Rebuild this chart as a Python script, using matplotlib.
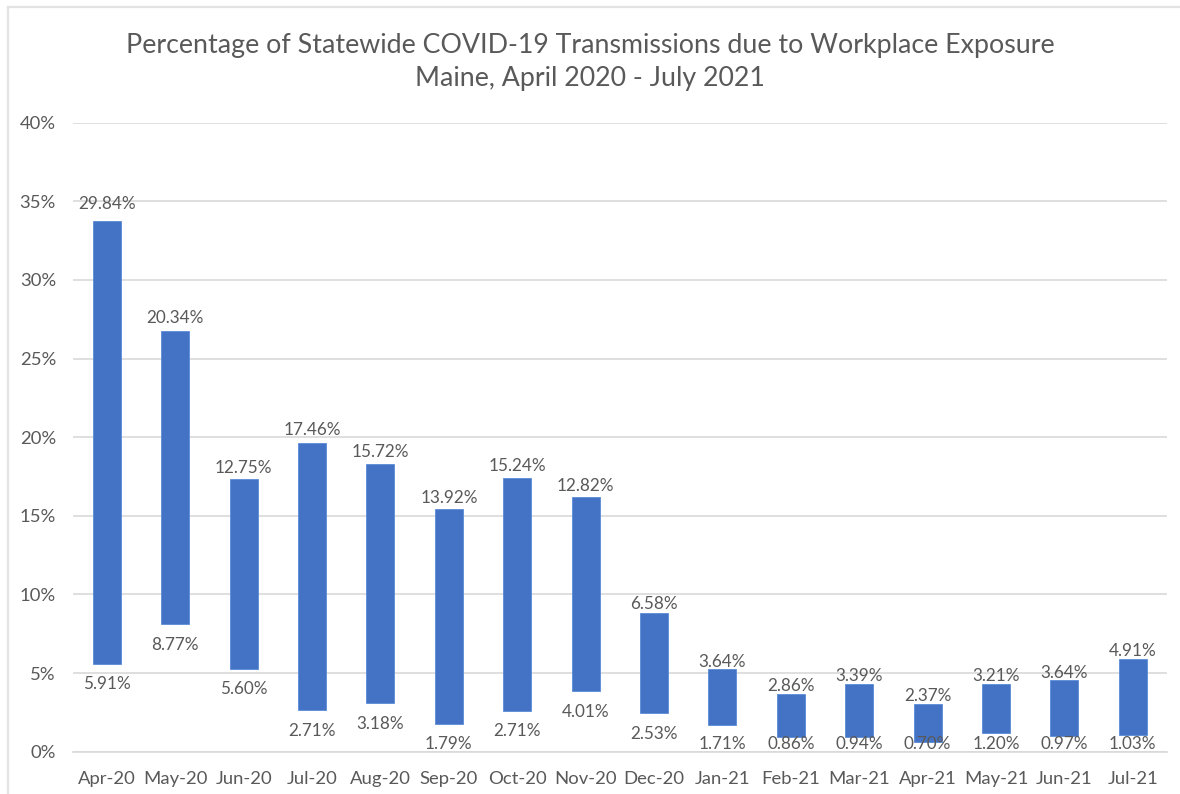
import matplotlib
matplotlib.use("Agg")
import matplotlib.pyplot as plt
from matplotlib.lines import Line2D
import numpy as np

months = ["Apr-20", "May-20", "Jun-20", "Jul-20", "Aug-20", "Sep-20", "Oct-20", "Nov-20",
          "Dec-20", "Jan-21", "Feb-21", "Mar-21", "Apr-21", "May-21", "Jun-21", "Jul-21"]
# bar extents (percent)
bar_low = [5.58, 8.10, 5.28, 2.63, 3.08, 1.76, 2.61, 3.86,
           2.44, 1.68, 0.91, 0.91, 0.64, 1.21, 0.98, 1.06]
bar_high = [33.77, 26.75, 17.36, 19.63, 18.30, 15.41, 17.42, 16.18,
            8.84, 5.24, 3.70, 4.31, 3.05, 4.31, 4.54, 5.88]
# data label texts
label_high = ["29.84%", "20.34%", "12.75%", "17.46%", "15.72%", "13.92%", "15.24%", "12.82%",
              "6.58%", "3.64%", "2.86%", "3.39%", "2.37%", "3.21%", "3.64%", "4.91%"]
label_low = ["5.91%", "8.77%", "5.60%", "2.71%", "3.18%", "1.79%", "2.71%", "4.01%",
             "2.53%", "1.71%", "0.86%", "0.94%", "0.70%", "1.20%", "0.97%", "1.03%"]
yticks = [0, 5, 10, 15, 20, 25, 30, 35, 40]
ytick_labels = ["0%", "5%", "10%", "15%", "20%", "25%", "30%", "35%", "40%"]
title = "Percentage of Statewide COVID-19 Transmissions due to Workplace Exposure\nMaine, April 2020 - July 2021"

plt.rcParams['font.family'] = ['Lato', 'DejaVu Sans']
TXT = "#595959"
BAR = "#4472C4"
GRID = "#D9D9D9"
YMAX = 40

fig = plt.figure(figsize=(11.8, 7.94), dpi=100)
ax = fig.add_axes([72.7 / 1180, (794 - 751.7) / 794, (1167 - 72.7) / 1180, (751.7 - 122.7) / 794])

x = np.arange(len(months))
lo = np.array(bar_low)
hi = np.array(bar_high)
ax.bar(x, hi - lo, bottom=lo, width=0.41, color=BAR, edgecolor="#5B8BD9", linewidth=0.6, zorder=3)

ax.set_xlim(-0.5, len(months) - 0.5)
ax.set_ylim(0, YMAX)

ppu = ax.bbox.height / YMAX  # pixels per percent
for i in range(len(months)):
    h_px = (hi[i] - lo[i]) * ppu
    top_off = 6.5 + 0.023 * h_px
    ax.annotate(label_high[i], (x[i], hi[i]), xytext=(0, top_off), textcoords="offset pixels",
                ha="center", va="center", fontsize=12.3, color=TXT, zorder=4)
    lo_px = lo[i] * ppu
    centre = max(lo_px - 20.5, 7.5)
    ax.annotate(label_low[i], (x[i], lo[i]), xytext=(0, centre - lo_px), textcoords="offset pixels",
                ha="center", va="center", fontsize=12.3, color=TXT, zorder=4)

ax.set_yticks(yticks)
ax.set_yticklabels(ytick_labels)
ax.set_xticks(x)
ax.set_xticklabels(months)
ax.tick_params(axis="both", length=0, colors=TXT, labelsize=13.3)
ax.tick_params(axis="y", pad=12)
ax.tick_params(axis="x", pad=14)
ax.yaxis.grid(True, color=GRID, linewidth=1.2, zorder=0)
ax.set_axisbelow(True)
for s in ["top", "right", "left"]:
    ax.spines[s].set_visible(False)
ax.spines["bottom"].set_color(GRID)
ax.spines["bottom"].set_linewidth(1.2)

fig.text(0.5, 1 - 62 / 794, title, ha="center", va="center", fontsize=19.3, color=TXT,
         linespacing=1.38)

# chart frame (left and top edges)
fig.add_artist(Line2D([8 / 1180, 8 / 1180], [0, 1 - 6.5 / 794], transform=fig.transFigure,
                      color="#E3E3E3", linewidth=1.6))
fig.add_artist(Line2D([8 / 1180, 1], [1 - 6.5 / 794, 1 - 6.5 / 794], transform=fig.transFigure,
                      color="#E3E3E3", linewidth=1.6))

fig.savefig("out.png", dpi=100, facecolor="white")
